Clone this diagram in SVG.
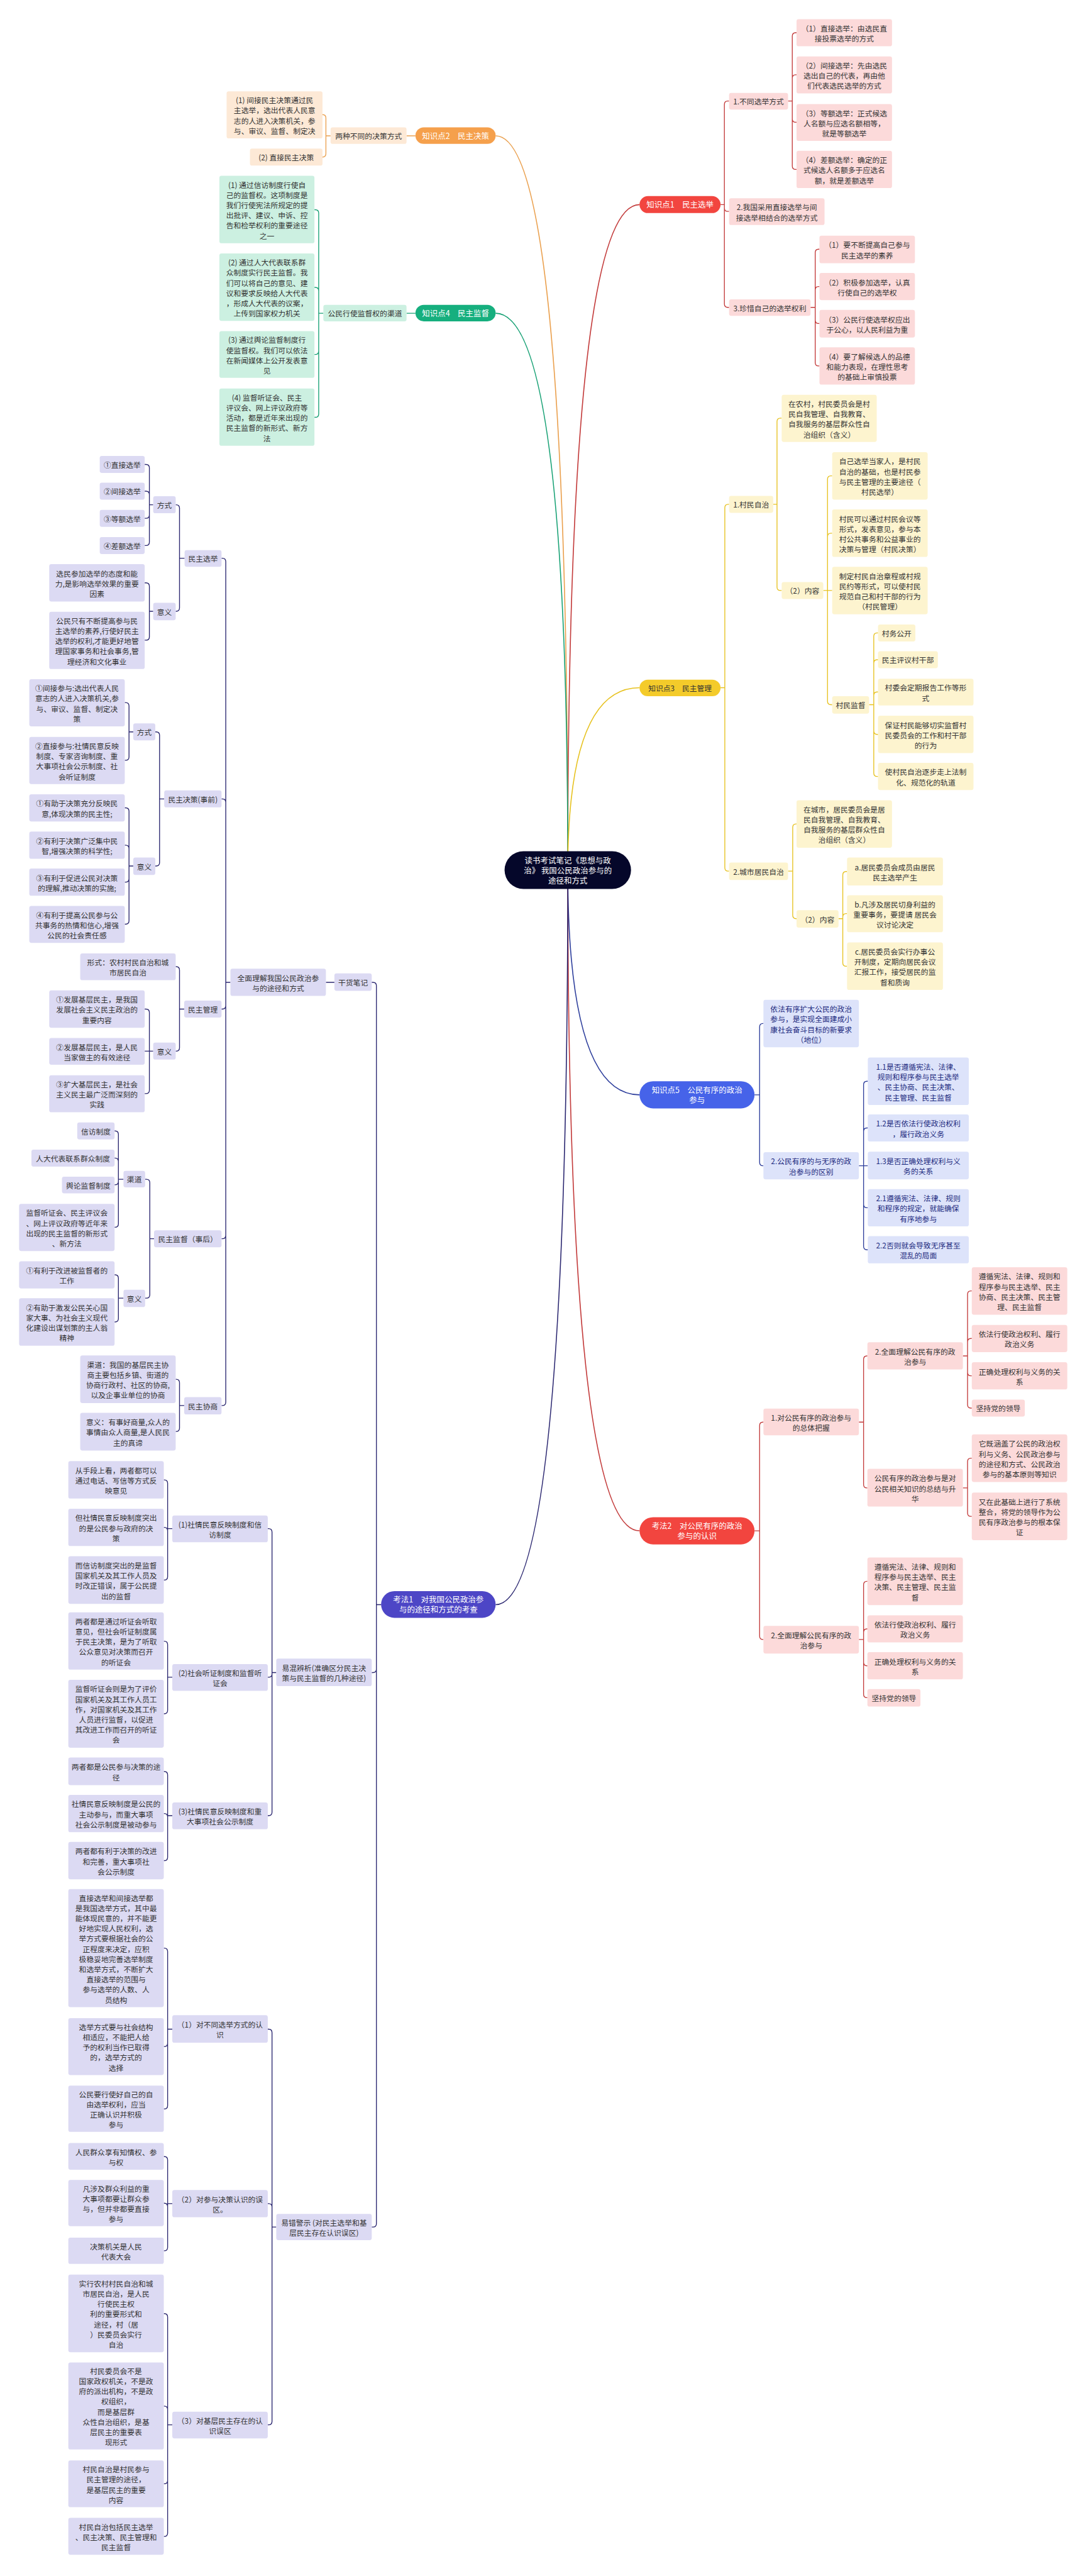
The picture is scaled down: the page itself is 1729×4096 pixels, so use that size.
<svg xmlns="http://www.w3.org/2000/svg" width="1729" height="4096" viewBox="0 0 1729 4096">
<style>
.t{font-family:"Noto Sans CJK SC","Noto Sans",sans-serif;font-size:17.5px;text-anchor:middle;dominant-baseline:central;fill:#333}
.w{fill:#fff;font-size:18.5px}
.nb{fill:#1c2a80}
.rd{fill:#F2453F}.pk{fill:#FCDADA}
.yM{fill:#F4CB2A}.yl{fill:#FDF4CF}
.bM{fill:#4663E9}.bl{fill:#DDE3FA}
.oM{fill:#F5A04C}.or{fill:#FDE9D6}
.gM{fill:#16AF7E}.gr{fill:#CCF0E1}
.iM{fill:#4D46C6}.lv{fill:#DCDAF3}
.cM{fill:#05072A}
.c{fill:none;stroke-width:2}
.m{fill:none;stroke-width:2.4}
.cr{stroke:#C33B3B}.cy{stroke:#E7C21F}.cb{stroke:#2D3E9C}.co{stroke:#EAA04E}.cg{stroke:#15A073}.ci{stroke:#2A2670}
</style>
<rect width="1729" height="4096" fill="#fff"/>
<g transform="scale(0.675)">
<g id="connectors">
<path class="m cr" d="M1338 2050Q1338 482 1507 482"/>
<path class="m co" d="M1338 2050Q1338 320 1168 320"/>
<path class="m cg" d="M1338 2050Q1338 738 1168 738"/>
<path class="m cy" d="M1338 2050Q1338 1620 1507 1620"/>
<path class="m cb" d="M1338 2050Q1338 2579 1507 2579"/>
<path class="m cr" d="M1338 2050Q1338 3606 1507 3606"/>
<path class="m ci" d="M1338 2050Q1338 3780 1168 3780"/>
<path class="c cr" d="M1698 482H1707M1707 482V246Q1707 238 1715 238H1718M1707 482V490Q1707 498 1715 498H1718M1707 482V716Q1707 724 1715 724H1718"/>
<path class="c cr" d="M1857 238H1867M1867 238V85Q1867 77 1875 77H1877M1867 238V184Q1867 176 1875 176H1877M1867 238V280Q1867 288 1875 288H1877M1867 238V391Q1867 399 1875 399H1877"/>
<path class="c cr" d="M1910 724H1921M1921 724V595Q1921 587 1929 587H1931M1921 724V683Q1921 675 1929 675H1931M1921 724V754Q1921 762 1929 762H1931M1921 724V854Q1921 862 1929 862H1931"/>
<path class="c cy" d="M1698 1620H1708M1708 1620V1196Q1708 1188 1716 1188H1718M1708 1620V2044Q1708 2052 1716 2052H1718"/>
<path class="c cy" d="M1822 1188H1831M1831 1188V993Q1831 985 1839 985H1842M1831 1188V1383Q1831 1391 1839 1391H1842"/>
<path class="c cy" d="M1940 1391H1961M1950 1391V1129Q1950 1121 1958 1121H1961M1950 1391V1264Q1950 1256 1958 1256H1961M1950 1391V1652Q1950 1660 1958 1660H1961"/>
<path class="c cy" d="M2048 1660H2059M2059 1660V1499Q2059 1491 2067 1491H2069M2059 1660V1562Q2059 1554 2067 1554H2069M2059 1660V1638Q2059 1630 2067 1630H2069M2059 1660V1722Q2059 1730 2067 1730H2069M2059 1660V1821Q2059 1829 2067 1829H2069"/>
<path class="c cy" d="M1857 2052H1868M1868 2052V1949Q1868 1941 1876 1941H1877M1868 2052V2156Q1868 2164 1876 2164H1877"/>
<path class="c cy" d="M1976 2164H1986M1986 2164V2061Q1986 2053 1994 2053H1996M1986 2164V2160Q1986 2152 1994 2152H1996M1986 2164V2268Q1986 2276 1994 2276H1996"/>
<path class="c cb" d="M1778 2579H1790M1790 2579V2419Q1790 2411 1798 2411H1799M1790 2579V2738Q1790 2746 1798 2746H1799"/>
<path class="c cb" d="M2024 2746H2045M2035 2746V2555Q2035 2547 2043 2547H2045M2035 2746V2665Q2035 2657 2043 2657H2045M2035 2746V2837Q2035 2845 2043 2845H2045M2035 2746V2936Q2035 2944 2043 2944H2045"/>
<path class="c cr" d="M1778 3606H1790M1790 3606V3358Q1790 3350 1798 3350H1799M1790 3606V3854Q1790 3862 1798 3862H1799"/>
<path class="c cr" d="M2024 3350H2035M2035 3350V3202Q2035 3194 2043 3194H2044M2035 3350V3497Q2035 3505 2043 3505H2044"/>
<path class="c cr" d="M2024 3862H2035M2035 3862V3733Q2035 3725 2043 3725H2044M2035 3862V3845Q2035 3837 2043 3837H2044M2035 3862V3916Q2035 3924 2043 3924H2044M2035 3862V3991Q2035 3999 2043 3999H2044"/>
<path class="c cr" d="M2269 3194H2280M2280 3194V3049Q2280 3041 2288 3041H2290M2280 3194V3161Q2280 3153 2288 3153H2290M2280 3194V3233Q2280 3241 2288 3241H2290M2280 3194V3309Q2280 3317 2288 3317H2290"/>
<path class="c cr" d="M2269 3505H2280M2280 3505V3443Q2280 3435 2288 3435H2290M2280 3505V3564Q2280 3572 2288 3572H2290"/>
<path class="c co" d="M979 320H958M779 320H768M768 320V278Q768 270 760 270M768 320V362Q768 370 760 370"/>
<path class="c cg" d="M979 738H958M762 738H751M751 738V502Q751 494 743 494H741M751 738V685Q751 677 743 677H741M751 738V827Q751 835 743 835H741M751 738V975Q751 983 743 983H741"/>
<path class="c ci" d="M898 3780H887M887 3780V2322Q887 2314 879 2314H876M887 3780V3932Q887 3940 879 3940H876M887 3780V5238Q887 5246 879 5246H876M788 2314H768"/>
<path class="c ci" d="M543 2314H532M532 2314V1323Q532 1315 524 1315H522M532 2314V1890Q532 1882 524 1882H522M532 2314V2369Q532 2377 524 2377H522M532 2314V2910Q532 2918 524 2918H522M532 2314V3303Q532 3311 524 3311H522"/>
<path class="c ci" d="M435 1315H423M423 1315V1197Q423 1189 415 1189H414M423 1315V1432Q423 1440 415 1440H414"/>
<path class="c ci" d="M361 1189H352M352 1189V1102Q352 1094 344 1094H341M352 1189V1165Q352 1157 344 1157H341M352 1189V1213Q352 1221 344 1221H341M352 1189V1277Q352 1285 344 1285H341"/>
<path class="c ci" d="M361 1440H352M352 1440V1381Q352 1373 344 1373H341M352 1440V1500Q352 1508 344 1508H341"/>
<path class="c ci" d="M387 1882H376M376 1882V1732Q376 1724 368 1724H366M376 1882V2032Q376 2040 368 2040H366"/>
<path class="c ci" d="M314 1724H304M304 1724V1663Q304 1655 296 1655H294M304 1724V1783Q304 1791 296 1791H294"/>
<path class="c ci" d="M314 2040H304M304 2040V1911Q304 1903 296 1903H294M304 2040V1999Q304 1991 296 1991H294M304 2040V2070Q304 2078 296 2078H294M304 2040V2169Q304 2177 296 2177H294"/>
<path class="c ci" d="M434 2377H423M423 2377V2285Q423 2277 415 2277H414M423 2377V2468Q423 2476 415 2476H414"/>
<path class="c ci" d="M361 2476H341M352 2476V2385Q352 2377 344 2377H341M352 2476V2568Q352 2576 344 2576H341"/>
<path class="c ci" d="M363 2918H353M353 2918V2786Q353 2778 345 2778H342M353 2918V3050Q353 3058 345 3058H342"/>
<path class="c ci" d="M291 2778H279M279 2778V2672Q279 2664 271 2664H270M279 2778V2736Q279 2728 271 2728H270M279 2778V2783Q279 2791 271 2791H270M279 2778V2883Q279 2891 271 2891H270"/>
<path class="c ci" d="M291 3058H279M279 3058V3011Q279 3003 271 3003H270M279 3058V3106Q279 3114 271 3114H270"/>
<path class="c ci" d="M434 3311H423M423 3311V3257Q423 3249 415 3249H414M423 3311V3364Q423 3372 415 3372H414"/>
<path class="c ci" d="M651 3940H641M641 3940V3609Q641 3601 633 3601H631M641 3940V3943Q641 3951 633 3951H631M641 3940V4269Q641 4277 633 4277H631"/>
<path class="c ci" d="M651 5246H641M641 5246V4788Q641 4780 633 4780H631M641 5246V5199Q641 5191 633 5191H631M641 5246V5704Q641 5712 633 5712H631"/>
<path class="c ci" d="M406 3601H395M395 3601V3494Q395 3486 387 3486H386M395 3601V3606Q395 3598 387 3598H386M395 3601V3714Q395 3722 387 3722H386"/>
<path class="c ci" d="M406 3951H395M395 3951V3874Q395 3866 387 3866H386M395 3951V4029Q395 4037 387 4037H386"/>
<path class="c ci" d="M406 4277H395M395 4277V4181Q395 4173 387 4173H386M395 4277V4280Q395 4272 387 4272H386M395 4277V4375Q395 4383 387 4383H386"/>
<path class="c ci" d="M406 4780H395M395 4780V4597Q395 4589 387 4589H386M395 4780V4813Q395 4821 387 4821H386M395 4780V4960Q395 4968 387 4968H386"/>
<path class="c ci" d="M406 5191H395M395 5191V5088Q395 5080 387 5080H386M395 5191V5198Q395 5190 387 5190H386M395 5191V5294Q395 5302 387 5302H386"/>
<path class="c ci" d="M406 5712H395M395 5712V5458Q395 5450 387 5450H386M395 5712V5676Q395 5668 387 5668H386M395 5712V5843Q395 5851 387 5851H386M395 5712V5967Q395 5975 387 5975H386"/>
</g>
<g id="center"><rect class="cM" x="1189" y="2005" width="298" height="89" rx="44.5"/><text class="t w" font-size="19"><tspan x="1338" y="2026.5">读书考试笔记《思想与政</tspan><tspan x="1338" y="2050">治》 我国公民政治参与的</tspan><tspan x="1338" y="2073.5">途径和方式</tspan></text></g>
<g id="k1-node"><rect class="rd" x="1507" y="462" width="191" height="40" rx="20"/><text class="t w" x="1602.5" y="482">知识点1　民主选举</text></g>
<g id="k1a"><rect class="pk" x="1718" y="219" width="139" height="39" rx="5"/><text class="t" x="1787.5" y="238.5">1.不同选举方式</text></g>
<g id="k1a1"><rect class="pk" x="1877" y="45" width="225" height="64" rx="5"/><text class="t"><tspan x="1989.5" y="65">（1）直接选举：由选民直</tspan><tspan x="1989.5" y="89">接投票选举的方式</tspan></text></g>
<g id="k1a2"><rect class="pk" x="1877" y="133" width="225" height="87" rx="5"/><text class="t"><tspan x="1989.5" y="152.5">（2）间接选举：先由选民</tspan><tspan x="1989.5" y="176.5">选出自己的代表，再由他</tspan><tspan x="1989.5" y="200.5">们代表选民选举的方式</tspan></text></g>
<g id="k1a3"><rect class="pk" x="1877" y="245" width="225" height="87" rx="5"/><text class="t"><tspan x="1989.5" y="264.5">（3）等额选举：正式候选</tspan><tspan x="1989.5" y="288.5">人名额与应选名额相等，</tspan><tspan x="1989.5" y="312.5">就是等额选举</tspan></text></g>
<g id="k1a4"><rect class="pk" x="1877" y="355" width="225" height="88" rx="5"/><text class="t"><tspan x="1989.5" y="375">（4）差额选举：确定的正</tspan><tspan x="1989.5" y="399">式候选人名额多于应选名</tspan><tspan x="1989.5" y="423">额，就是差额选举</tspan></text></g>
<g id="k1b"><rect class="pk" x="1718" y="467" width="225" height="63" rx="5"/><text class="t"><tspan x="1830.5" y="486.5">2.我国采用直接选举与间</tspan><tspan x="1830.5" y="510.5">接选举相结合的选举方式</tspan></text></g>
<g id="k1c"><rect class="pk" x="1718" y="705" width="192" height="39" rx="5"/><text class="t" x="1814" y="724.5">3.珍惜自己的选举权利</text></g>
<g id="k1c1"><rect class="pk" x="1931" y="555" width="225" height="65" rx="5"/><text class="t"><tspan x="2043.5" y="575.5">（1）要不断提高自己参与</tspan><tspan x="2043.5" y="599.5">民主选举的素养</tspan></text></g>
<g id="k1c2"><rect class="pk" x="1931" y="643" width="225" height="64" rx="5"/><text class="t"><tspan x="2043.5" y="663">（2）积极参加选举，认真</tspan><tspan x="2043.5" y="687">行使自己的选举权</tspan></text></g>
<g id="k1c3"><rect class="pk" x="1931" y="730" width="225" height="65" rx="5"/><text class="t"><tspan x="2043.5" y="750.5">（3）公民行使选举权应出</tspan><tspan x="2043.5" y="774.5">于公心，以人民利益为重</tspan></text></g>
<g id="k1c4"><rect class="pk" x="1931" y="818" width="225" height="88" rx="5"/><text class="t"><tspan x="2043.5" y="838">（4）要了解候选人的品德</tspan><tspan x="2043.5" y="862">和能力表现，在理性思考</tspan><tspan x="2043.5" y="886">的基础上审慎投票</tspan></text></g>
<g id="k3-node"><rect class="yM" x="1507" y="1601" width="191" height="39" rx="19.5"/><text class="t" x="1602.5" y="1620.5" font-size="18.5">知识点3　民主管理</text></g>
<g id="k3a"><rect class="yl" x="1718" y="1168" width="104" height="40" rx="5"/><text class="t" x="1770" y="1188">1.村民自治</text></g>
<g id="k3a1"><rect class="yl" x="1842" y="930" width="224" height="111" rx="5"/><text class="t"><tspan x="1954" y="949.5">在农村，村民委员会是村</tspan><tspan x="1954" y="973.5">民自我管理、自我教育、</tspan><tspan x="1954" y="997.5">自我服务的基层群众性自</tspan><tspan x="1954" y="1021.5">治组织（含义）</tspan></text></g>
<g id="k3a2"><rect class="yl" x="1842" y="1371" width="98" height="40" rx="5"/><text class="t" x="1891" y="1391">（2）内容</text></g>
<g id="k3a2a"><rect class="yl" x="1961" y="1065" width="225" height="112" rx="5"/><text class="t"><tspan x="2073.5" y="1085">自己选举当家人，是村民</tspan><tspan x="2073.5" y="1109">自治的基础，也是村民参</tspan><tspan x="2073.5" y="1133">与民主管理的主要途径（</tspan><tspan x="2073.5" y="1157">村民选举）</tspan></text></g>
<g id="k3a2b"><rect class="yl" x="1961" y="1200" width="225" height="112" rx="5"/><text class="t"><tspan x="2073.5" y="1220">村民可以通过村民会议等</tspan><tspan x="2073.5" y="1244">形式，发表意见，参与本</tspan><tspan x="2073.5" y="1268">村公共事务和公益事业的</tspan><tspan x="2073.5" y="1292">决策与管理（村民决策）</tspan></text></g>
<g id="k3a2c"><rect class="yl" x="1961" y="1335" width="225" height="112" rx="5"/><text class="t"><tspan x="2073.5" y="1355">制定村民自治章程或村规</tspan><tspan x="2073.5" y="1379">民约等形式，可以使村民</tspan><tspan x="2073.5" y="1403">规范自己和村干部的行为</tspan><tspan x="2073.5" y="1427">（村民管理）</tspan></text></g>
<g id="k3a2d"><rect class="yl" x="1961" y="1640" width="87" height="41" rx="5"/><text class="t" x="2004.5" y="1660.5">村民监督</text></g>
<g id="k3a2d1"><rect class="yl" x="2069" y="1471" width="88" height="40" rx="5"/><text class="t" x="2113" y="1491">村务公开</text></g>
<g id="k3a2d2"><rect class="yl" x="2069" y="1534" width="141" height="40" rx="5"/><text class="t" x="2139.5" y="1554">民主评议村干部</text></g>
<g id="k3a2d3"><rect class="yl" x="2069" y="1599" width="225" height="63" rx="5"/><text class="t"><tspan x="2181.5" y="1618.5">村委会定期报告工作等形</tspan><tspan x="2181.5" y="1642.5">式</tspan></text></g>
<g id="k3a2d4"><rect class="yl" x="2069" y="1686" width="225" height="88" rx="5"/><text class="t"><tspan x="2181.5" y="1706">保证村民能够切实监督村</tspan><tspan x="2181.5" y="1730">民委员会的工作和村干部</tspan><tspan x="2181.5" y="1754">的行为</tspan></text></g>
<g id="k3a2d5"><rect class="yl" x="2069" y="1797" width="225" height="64" rx="5"/><text class="t"><tspan x="2181.5" y="1817">使村民自治逐步走上法制</tspan><tspan x="2181.5" y="1841">化、规范化的轨道</tspan></text></g>
<g id="k3b"><rect class="yl" x="1718" y="2032" width="139" height="41" rx="5"/><text class="t" x="1787.5" y="2052.5">2.城市居民自治</text></g>
<g id="k3b1"><rect class="yl" x="1877" y="1885" width="225" height="112" rx="5"/><text class="t"><tspan x="1989.5" y="1905">在城市，居民委员会是居</tspan><tspan x="1989.5" y="1929">民自我管理、自我教育、</tspan><tspan x="1989.5" y="1953">自我服务的基层群众性自</tspan><tspan x="1989.5" y="1977">治组织（含义）</tspan></text></g>
<g id="k3b2"><rect class="yl" x="1877" y="2144" width="99" height="41" rx="5"/><text class="t" x="1926.5" y="2164.5">（2）内容</text></g>
<g id="k3b2a"><rect class="yl" x="1996" y="2020" width="226" height="66" rx="5"/><text class="t"><tspan x="2109" y="2041">a.居民委员会成员由居民</tspan><tspan x="2109" y="2065">民主选举产生</tspan></text></g>
<g id="k3b2b"><rect class="yl" x="1996" y="2109" width="226" height="87" rx="5"/><text class="t"><tspan x="2109" y="2128.5">b.凡涉及居民切身利益的</tspan><tspan x="2109" y="2152.5">重要事务，要提请 居民会</tspan><tspan x="2109" y="2176.5">议讨论决定</tspan></text></g>
<g id="k3b2c"><rect class="yl" x="1996" y="2220" width="226" height="112" rx="5"/><text class="t"><tspan x="2109" y="2240">c.居民委员会实行办事公</tspan><tspan x="2109" y="2264">开制度，定期向居民会议</tspan><tspan x="2109" y="2288">汇报工作，接受居民的监</tspan><tspan x="2109" y="2312">督和质询</tspan></text></g>
<g id="k5-node"><rect class="bM" x="1507" y="2547" width="271" height="64" rx="32"/><text class="t w"><tspan x="1642.5" y="2567">知识点5　公民有序的政治</tspan><tspan x="1642.5" y="2591">参与</tspan></text></g>
<g id="k5a"><rect class="bl" x="1799" y="2355" width="225" height="112" rx="5"/><text class="t nb"><tspan x="1911.5" y="2375">依法有序扩大公民的政治</tspan><tspan x="1911.5" y="2399">参与，是实现全面建成小</tspan><tspan x="1911.5" y="2423">康社会奋斗目标的新要求</tspan><tspan x="1911.5" y="2447">（地位）</tspan></text></g>
<g id="k5b"><rect class="bl" x="1799" y="2714" width="225" height="64" rx="5"/><text class="t nb"><tspan x="1911.5" y="2734">2.公民有序的与无序的政</tspan><tspan x="1911.5" y="2758">治参与的区别</tspan></text></g>
<g id="k5b1"><rect class="bl" x="2045" y="2491" width="238" height="112" rx="5"/><text class="t nb"><tspan x="2164" y="2511">1.1是否遵循宪法、法律、</tspan><tspan x="2164" y="2535">规则和程序参与民主选举</tspan><tspan x="2164" y="2559">、民主协商、民主决策、</tspan><tspan x="2164" y="2583">民主管理、民主监督</tspan></text></g>
<g id="k5b2"><rect class="bl" x="2045" y="2625" width="238" height="64" rx="5"/><text class="t nb"><tspan x="2164" y="2645">1.2是否依法行使政治权利</tspan><tspan x="2164" y="2669">，履行政治义务</tspan></text></g>
<g id="k5b3"><rect class="bl" x="2045" y="2713" width="238" height="65" rx="5"/><text class="t nb"><tspan x="2164" y="2733.5">1.3是否正确处理权利与义</tspan><tspan x="2164" y="2757.5">务的关系</tspan></text></g>
<g id="k5b4"><rect class="bl" x="2045" y="2801" width="238" height="88" rx="5"/><text class="t nb"><tspan x="2164" y="2821">2.1遵循宪法、法律、规则</tspan><tspan x="2164" y="2845">和程序的规定，就能确保</tspan><tspan x="2164" y="2869">有序地参与</tspan></text></g>
<g id="k5b5"><rect class="bl" x="2045" y="2912" width="238" height="64" rx="5"/><text class="t nb"><tspan x="2164" y="2932">2.2否则就会导致无序甚至</tspan><tspan x="2164" y="2956">混乱的局面</tspan></text></g>
<g id="kf2-node"><rect class="rd" x="1507" y="3574" width="271" height="64" rx="32"/><text class="t w"><tspan x="1642.5" y="3594">考法2　对公民有序的政治</tspan><tspan x="1642.5" y="3618">参与的认识</tspan></text></g>
<g id="kf2a"><rect class="pk" x="1799" y="3318" width="225" height="63" rx="5"/><text class="t"><tspan x="1911.5" y="3337.5">1.对公民有序的政治参与</tspan><tspan x="1911.5" y="3361.5">的总体把握</tspan></text></g>
<g id="kf2a1"><rect class="pk" x="2044" y="3162" width="225" height="64" rx="5"/><text class="t"><tspan x="2156.5" y="3182">2.全面理解公民有序的政</tspan><tspan x="2156.5" y="3206">治参与</tspan></text></g>
<g id="kf2a1a"><rect class="pk" x="2290" y="2985" width="225" height="112" rx="5"/><text class="t"><tspan x="2402.5" y="3005">遵循宪法、法律、规则和</tspan><tspan x="2402.5" y="3029">程序参与民主选举、民主</tspan><tspan x="2402.5" y="3053">协商、民主决策、民主管</tspan><tspan x="2402.5" y="3077">理、民主监督</tspan></text></g>
<g id="kf2a1b"><rect class="pk" x="2290" y="3121" width="225" height="64" rx="5"/><text class="t"><tspan x="2402.5" y="3141">依法行使政治权利、履行</tspan><tspan x="2402.5" y="3165">政治义务</tspan></text></g>
<g id="kf2a1c"><rect class="pk" x="2290" y="3209" width="225" height="64" rx="5"/><text class="t"><tspan x="2402.5" y="3229">正确处理权利与义务的关</tspan><tspan x="2402.5" y="3253">系</tspan></text></g>
<g id="kf2a1d"><rect class="pk" x="2290" y="3297" width="125" height="40" rx="5"/><text class="t" x="2352.5" y="3317">坚持党的领导</text></g>
<g id="kf2a2"><rect class="pk" x="2044" y="3460" width="225" height="89" rx="5"/><text class="t"><tspan x="2156.5" y="3480.5">公民有序的政治参与是对</tspan><tspan x="2156.5" y="3504.5">公民相关知识的总结与升</tspan><tspan x="2156.5" y="3528.5">华</tspan></text></g>
<g id="kf2a2a"><rect class="pk" x="2290" y="3379" width="225" height="112" rx="5"/><text class="t"><tspan x="2402.5" y="3399">它既涵盖了公民的政治权</tspan><tspan x="2402.5" y="3423">利与义务、公民政治参与</tspan><tspan x="2402.5" y="3447">的途径和方式、公民政治</tspan><tspan x="2402.5" y="3471">参与的基本原则等知识</tspan></text></g>
<g id="kf2a2b"><rect class="pk" x="2290" y="3516" width="225" height="112" rx="5"/><text class="t"><tspan x="2402.5" y="3536">又在此基础上进行了系统</tspan><tspan x="2402.5" y="3560">整合，将党的领导作为公</tspan><tspan x="2402.5" y="3584">民有序政治参与的根本保</tspan><tspan x="2402.5" y="3608">证</tspan></text></g>
<g id="kf2b"><rect class="pk" x="1799" y="3830" width="225" height="65" rx="5"/><text class="t"><tspan x="1911.5" y="3850.5">2.全面理解公民有序的政</tspan><tspan x="1911.5" y="3874.5">治参与</tspan></text></g>
<g id="kf2b1"><rect class="pk" x="2044" y="3669" width="225" height="112" rx="5"/><text class="t"><tspan x="2156.5" y="3689">遵循宪法、法律、规则和</tspan><tspan x="2156.5" y="3713">程序参与民主选举、民主</tspan><tspan x="2156.5" y="3737">决策、民主管理、民主监</tspan><tspan x="2156.5" y="3761">督</tspan></text></g>
<g id="kf2b2"><rect class="pk" x="2044" y="3805" width="225" height="64" rx="5"/><text class="t"><tspan x="2156.5" y="3825">依法行使政治权利、履行</tspan><tspan x="2156.5" y="3849">政治义务</tspan></text></g>
<g id="kf2b3"><rect class="pk" x="2044" y="3892" width="225" height="64" rx="5"/><text class="t"><tspan x="2156.5" y="3912">正确处理权利与义务的关</tspan><tspan x="2156.5" y="3936">系</tspan></text></g>
<g id="kf2b4"><rect class="pk" x="2044" y="3979" width="125" height="41" rx="5"/><text class="t" x="2106.5" y="3999.5">坚持党的领导</text></g>
<g id="k2-node"><rect class="oM" x="979" y="300" width="189" height="39" rx="19.5"/><text class="t w" x="1073.5" y="319.5">知识点2　民主决策</text></g>
<g id="k2a"><rect class="or" x="779" y="300" width="179" height="39" rx="5"/><text class="t" x="868.5" y="319.5">两种不同的决策方式</text></g>
<g id="k2a1"><rect class="or" x="534" y="215" width="226" height="111" rx="5"/><text class="t"><tspan x="647" y="234.5">(1) 间接民主决策通过民</tspan><tspan x="647" y="258.5">主选举，选出代表人民意</tspan><tspan x="647" y="282.5">志的人进入决策机关，参</tspan><tspan x="647" y="306.5">与、审议、监督、制定决</tspan></text></g>
<g id="k2a2"><rect class="or" x="589" y="350" width="171" height="40" rx="5"/><text class="t" x="674.5" y="370">(2) 直接民主决策</text></g>
<g id="k4-node"><rect class="gM" x="979" y="718" width="189" height="39" rx="19.5"/><text class="t w" x="1073.5" y="737.5">知识点4　民主监督</text></g>
<g id="k4a"><rect class="gr" x="762" y="718" width="196" height="39" rx="5"/><text class="t" x="860" y="737.5">公民行使监督权的渠道</text></g>
<g id="k4a1"><rect class="gr" x="517" y="414" width="224" height="159" rx="5"/><text class="t"><tspan x="629" y="433.5">(1) 通过信访制度行使自</tspan><tspan x="629" y="457.5">己的监督权。这项制度是</tspan><tspan x="629" y="481.5">我们行使宪法所规定的提</tspan><tspan x="629" y="505.5">出批评、建议、申诉、控</tspan><tspan x="629" y="529.5">告和检举权利的重要途径</tspan><tspan x="629" y="553.5">之一</tspan></text></g>
<g id="k4a2"><rect class="gr" x="517" y="597" width="224" height="159" rx="5"/><text class="t"><tspan x="629" y="616.5">(2) 通过人大代表联系群</tspan><tspan x="629" y="640.5">众制度实行民主监督。我</tspan><tspan x="629" y="664.5">们可以将自己的意见、建</tspan><tspan x="629" y="688.5">议和要求反映给人大代表</tspan><tspan x="629" y="712.5">，形成人大代表的议案，</tspan><tspan x="629" y="736.5">上传到国家权力机关</tspan></text></g>
<g id="k4a3"><rect class="gr" x="517" y="780" width="224" height="110" rx="5"/><text class="t"><tspan x="629" y="799">(3) 通过舆论监督制度行</tspan><tspan x="629" y="823">使监督权。我们可以依法</tspan><tspan x="629" y="847">在新闻媒体上公开发表意</tspan><tspan x="629" y="871">见</tspan></text></g>
<g id="k4a4"><rect class="gr" x="517" y="915" width="224" height="135" rx="5"/><text class="t"><tspan x="629" y="934.5">(4) 监督听证会、民主</tspan><tspan x="629" y="958.5">评议会、网上评议政府等</tspan><tspan x="629" y="982.5">活动，都是近年来出现的</tspan><tspan x="629" y="1006.5">民主监督的新形式、新方</tspan><tspan x="629" y="1030.5">法</tspan></text></g>
<g id="kf1-node"><rect class="iM" x="898" y="3748" width="270" height="63" rx="31.5"/><text class="t w"><tspan x="1033" y="3767.5">考法1　对我国公民政治参</tspan><tspan x="1033" y="3791.5">与的途径和方式的考查</tspan></text></g>
<g id="gh"><rect class="lv" x="788" y="2293" width="88" height="41" rx="5"/><text class="t" x="832" y="2313.5">干货笔记</text></g>
<g id="qm"><rect class="lv" x="543" y="2282" width="225" height="64" rx="5"/><text class="t"><tspan x="655.5" y="2302">全面理解我国公民政治参</tspan><tspan x="655.5" y="2326">与的途径和方式</tspan></text></g>
<g id="mx"><rect class="lv" x="435" y="1296" width="87" height="39" rx="5"/><text class="t" x="478.5" y="1315.5">民主选举</text></g>
<g id="mx-fs"><rect class="lv" x="361" y="1169" width="53" height="40" rx="5"/><text class="t" x="387.5" y="1189">方式</text></g>
<g id="mx-fs1"><rect class="lv" x="235" y="1074" width="106" height="40" rx="5"/><text class="t" x="288" y="1094">①直接选举</text></g>
<g id="mx-fs2"><rect class="lv" x="235" y="1137" width="106" height="40" rx="5"/><text class="t" x="288" y="1157">②间接选举</text></g>
<g id="mx-fs3"><rect class="lv" x="235" y="1201" width="106" height="40" rx="5"/><text class="t" x="288" y="1221">③等额选举</text></g>
<g id="mx-fs4"><rect class="lv" x="235" y="1265" width="106" height="40" rx="5"/><text class="t" x="288" y="1285">④差额选举</text></g>
<g id="mx-yy"><rect class="lv" x="361" y="1420" width="53" height="41" rx="5"/><text class="t" x="387.5" y="1440.5">意义</text></g>
<g id="mx-yy1"><rect class="lv" x="116" y="1329" width="225" height="88" rx="5"/><text class="t"><tspan x="228.5" y="1349">选民参加选举的态度和能</tspan><tspan x="228.5" y="1373">力,是影响选举效果的重要</tspan><tspan x="228.5" y="1397">因素</tspan></text></g>
<g id="mx-yy2"><rect class="lv" x="116" y="1441" width="225" height="135" rx="5"/><text class="t"><tspan x="228.5" y="1460.5">公民只有不断提高参与民</tspan><tspan x="228.5" y="1484.5">主选举的素养,行使好民主</tspan><tspan x="228.5" y="1508.5">选举的权利,才能更好地管</tspan><tspan x="228.5" y="1532.5">理国家事务和社会事务,管</tspan><tspan x="228.5" y="1556.5">理经济和文化事业</tspan></text></g>
<g id="mj"><rect class="lv" x="387" y="1862" width="135" height="40" rx="5"/><text class="t" x="454.5" y="1882">民主决策(事前)</text></g>
<g id="mj-fs"><rect class="lv" x="314" y="1704" width="52" height="40" rx="5"/><text class="t" x="340" y="1724">方式</text></g>
<g id="mj-fs1"><rect class="lv" x="69" y="1600" width="225" height="111" rx="5"/><text class="t"><tspan x="181.5" y="1619.5">①间接参与:选出代表人民</tspan><tspan x="181.5" y="1643.5">意志的人进入决策机关,参</tspan><tspan x="181.5" y="1667.5">与、审议、监督、制定决</tspan><tspan x="181.5" y="1691.5">策</tspan></text></g>
<g id="mj-fs2"><rect class="lv" x="69" y="1736" width="225" height="111" rx="5"/><text class="t"><tspan x="181.5" y="1755.5">②直接参与:社情民意反映</tspan><tspan x="181.5" y="1779.5">制度、专家咨询制度、重</tspan><tspan x="181.5" y="1803.5">大事项社会公示制度、社</tspan><tspan x="181.5" y="1827.5">会听证制度</tspan></text></g>
<g id="mj-yy"><rect class="lv" x="314" y="2020" width="52" height="41" rx="5"/><text class="t" x="340" y="2040.5">意义</text></g>
<g id="mj-yy1"><rect class="lv" x="69" y="1871" width="225" height="64" rx="5"/><text class="t"><tspan x="181.5" y="1891">①有助于决策充分反映民</tspan><tspan x="181.5" y="1915">意,体现决策的民主性;</tspan></text></g>
<g id="mj-yy2"><rect class="lv" x="69" y="1959" width="225" height="64" rx="5"/><text class="t"><tspan x="181.5" y="1979">②有利于决策广泛集中民</tspan><tspan x="181.5" y="2003">智,增强决策的科学性;</tspan></text></g>
<g id="mj-yy3"><rect class="lv" x="69" y="2046" width="225" height="64" rx="5"/><text class="t"><tspan x="181.5" y="2066">③有利于促进公民对决策</tspan><tspan x="181.5" y="2090">的理解,推动决策的实施;</tspan></text></g>
<g id="mj-yy4"><rect class="lv" x="69" y="2134" width="225" height="87" rx="5"/><text class="t"><tspan x="181.5" y="2153.5">④有利于提高公民参与公</tspan><tspan x="181.5" y="2177.5">共事务的热情和信心,增强</tspan><tspan x="181.5" y="2201.5">公民的社会责任感</tspan></text></g>
<g id="mg"><rect class="lv" x="434" y="2357" width="88" height="40" rx="5"/><text class="t" x="478" y="2377">民主管理</text></g>
<g id="mg-xs"><rect class="lv" x="189" y="2246" width="225" height="63" rx="5"/><text class="t"><tspan x="301.5" y="2265.5">形式：农村村民自治和城</tspan><tspan x="301.5" y="2289.5">市居民自治</tspan></text></g>
<g id="mg-yy"><rect class="lv" x="361" y="2456" width="53" height="40" rx="5"/><text class="t" x="387.5" y="2476">意义</text></g>
<g id="mg-yy1"><rect class="lv" x="116" y="2333" width="225" height="88" rx="5"/><text class="t"><tspan x="228.5" y="2353">①发展基层民主，是我国</tspan><tspan x="228.5" y="2377">发展社会主义民主政治的</tspan><tspan x="228.5" y="2401">重要内容</tspan></text></g>
<g id="mg-yy2"><rect class="lv" x="116" y="2445" width="225" height="63" rx="5"/><text class="t"><tspan x="228.5" y="2464.5">②发展基层民主，是人民</tspan><tspan x="228.5" y="2488.5">当家做主的有效途径</tspan></text></g>
<g id="mg-yy3"><rect class="lv" x="116" y="2533" width="225" height="87" rx="5"/><text class="t"><tspan x="228.5" y="2552.5">③扩大基层民主，是社会</tspan><tspan x="228.5" y="2576.5">主义民主最广泛而深刻的</tspan><tspan x="228.5" y="2600.5">实践</tspan></text></g>
<g id="mjd"><rect class="lv" x="363" y="2898" width="159" height="40" rx="5"/><text class="t" x="442.5" y="2918">民主监督（事后）</text></g>
<g id="mjd-qd"><rect class="lv" x="291" y="2758" width="51" height="39" rx="5"/><text class="t" x="316.5" y="2777.5">渠道</text></g>
<g id="mjd-qd1"><rect class="lv" x="182" y="2644" width="88" height="40" rx="5"/><text class="t" x="226" y="2664">信访制度</text></g>
<g id="mjd-qd2"><rect class="lv" x="74" y="2708" width="196" height="40" rx="5"/><text class="t" x="172" y="2728">人大代表联系群众制度</text></g>
<g id="mjd-qd3"><rect class="lv" x="146" y="2772" width="124" height="39" rx="5"/><text class="t" x="208" y="2791.5">舆论监督制度</text></g>
<g id="mjd-qd4"><rect class="lv" x="45" y="2836" width="225" height="111" rx="5"/><text class="t"><tspan x="157.5" y="2855.5">监督听证会、民主评议会</tspan><tspan x="157.5" y="2879.5">、网上评议政府等近年来</tspan><tspan x="157.5" y="2903.5">出现的民主监督的新形式</tspan><tspan x="157.5" y="2927.5">、新方法</tspan></text></g>
<g id="mjd-yy"><rect class="lv" x="291" y="3038" width="51" height="41" rx="5"/><text class="t" x="316.5" y="3058.5">意义</text></g>
<g id="mjd-yy1"><rect class="lv" x="45" y="2971" width="225" height="64" rx="5"/><text class="t"><tspan x="157.5" y="2991">①有利于改进被监督者的</tspan><tspan x="157.5" y="3015">工作</tspan></text></g>
<g id="mjd-yy2"><rect class="lv" x="45" y="3058" width="225" height="112" rx="5"/><text class="t"><tspan x="157.5" y="3078">②有助于激发公民关心国</tspan><tspan x="157.5" y="3102">家大事、为社会主义现代</tspan><tspan x="157.5" y="3126">化建设出谋划策的主人翁</tspan><tspan x="157.5" y="3150">精神</tspan></text></g>
<g id="xs"><rect class="lv" x="434" y="3291" width="88" height="41" rx="5"/><text class="t" x="478" y="3311.5">民主协商</text></g>
<g id="xs1"><rect class="lv" x="189" y="3193" width="225" height="112" rx="5"/><text class="t"><tspan x="301.5" y="3213">渠道：我国的基层民主协</tspan><tspan x="301.5" y="3237">商主要包括乡镇、街道的</tspan><tspan x="301.5" y="3261">协商行政村、社区的协商,</tspan><tspan x="301.5" y="3285">以及企事业单位的协商</tspan></text></g>
<g id="xs2"><rect class="lv" x="189" y="3328" width="225" height="89" rx="5"/><text class="t"><tspan x="301.5" y="3348.5">意义：有事好商量,众人的</tspan><tspan x="301.5" y="3372.5">事情由众人商量,是人民民</tspan><tspan x="301.5" y="3396.5">主的真谛</tspan></text></g>
<g id="yh"><rect class="lv" x="651" y="3907" width="225" height="65" rx="5"/><text class="t"><tspan x="763.5" y="3927.5">易混辨析(准确区分民主决</tspan><tspan x="763.5" y="3951.5">策与民主监督的几种途径)</tspan></text></g>
<g id="yh1"><rect class="lv" x="406" y="3570" width="225" height="63" rx="5"/><text class="t"><tspan x="518.5" y="3589.5">(1)社情民意反映制度和信</tspan><tspan x="518.5" y="3613.5">访制度</tspan></text></g>
<g id="yh2"><rect class="lv" x="406" y="3920" width="225" height="63" rx="5"/><text class="t"><tspan x="518.5" y="3939.5">(2)社会听证制度和监督听</tspan><tspan x="518.5" y="3963.5">证会</tspan></text></g>
<g id="yh3"><rect class="lv" x="406" y="4246" width="225" height="63" rx="5"/><text class="t"><tspan x="518.5" y="4265.5">(3)社情民意反映制度和重</tspan><tspan x="518.5" y="4289.5">大事项社会公示制度</tspan></text></g>
<g id="yc"><rect class="lv" x="651" y="5215" width="225" height="62" rx="5"/><text class="t"><tspan x="763.5" y="5234">易错警示 (对民主选举和基</tspan><tspan x="763.5" y="5258">层民主存在认识误区)</tspan></text></g>
<g id="yc1"><rect class="lv" x="406" y="4747" width="225" height="65" rx="5"/><text class="t"><tspan x="518.5" y="4767.5">（1）对不同选举方式的认</tspan><tspan x="518.5" y="4791.5">识</tspan></text></g>
<g id="yc2"><rect class="lv" x="406" y="5159" width="225" height="64" rx="5"/><text class="t"><tspan x="518.5" y="5179">（2）对参与决策认识的误</tspan><tspan x="518.5" y="5203">区。</tspan></text></g>
<g id="yc3"><rect class="lv" x="406" y="5681" width="225" height="63" rx="5"/><text class="t"><tspan x="518.5" y="5700.5">（3）对基层民主存在的认</tspan><tspan x="518.5" y="5724.5">识误区</tspan></text></g>
<g id="L1"><rect class="lv" x="161" y="3442" width="225" height="88" rx="5"/><text class="t"><tspan x="273.5" y="3462">从手段上看，两者都可以</tspan><tspan x="273.5" y="3486">通过电话、写信等方式反</tspan><tspan x="273.5" y="3510">映意见</tspan></text></g>
<g id="L2"><rect class="lv" x="161" y="3554" width="225" height="88" rx="5"/><text class="t"><tspan x="273.5" y="3574">但社情民意反映制度突出</tspan><tspan x="273.5" y="3598">的是公民参与政府的决</tspan><tspan x="273.5" y="3622">策</tspan></text></g>
<g id="L3"><rect class="lv" x="161" y="3666" width="225" height="112" rx="5"/><text class="t"><tspan x="273.5" y="3686">而信访制度突出的是监督</tspan><tspan x="273.5" y="3710">国家机关及其工作人员及</tspan><tspan x="273.5" y="3734">时改正错误，属于公民提</tspan><tspan x="273.5" y="3758">出的监督</tspan></text></g>
<g id="L4"><rect class="lv" x="161" y="3798" width="225" height="135" rx="5"/><text class="t"><tspan x="273.5" y="3817.5">两者都是通过听证会听取</tspan><tspan x="273.5" y="3841.5">意见，但社会听证制度属</tspan><tspan x="273.5" y="3865.5">于民主决策，是为了听取</tspan><tspan x="273.5" y="3889.5">公众意见对决策而召开</tspan><tspan x="273.5" y="3913.5">的听证会</tspan></text></g>
<g id="L5"><rect class="lv" x="161" y="3957" width="225" height="160" rx="5"/><text class="t"><tspan x="273.5" y="3977">监督听证会则是为了评价</tspan><tspan x="273.5" y="4001">国家机关及其工作人员工</tspan><tspan x="273.5" y="4025">作，对国家机关及其工作</tspan><tspan x="273.5" y="4049">人员进行监督，以促进</tspan><tspan x="273.5" y="4073">其改进工作而召开的听证</tspan><tspan x="273.5" y="4097">会</tspan></text></g>
<g id="L6"><rect class="lv" x="161" y="4140" width="225" height="65" rx="5"/><text class="t"><tspan x="273.5" y="4160.5">两者都是公民参与决策的途</tspan><tspan x="273.5" y="4184.5">径</tspan></text></g>
<g id="L7"><rect class="lv" x="161" y="4228" width="225" height="88" rx="5"/><text class="t"><tspan x="273.5" y="4248">社情民意反映制度是公民的</tspan><tspan x="273.5" y="4272">主动参与，而重大事项</tspan><tspan x="273.5" y="4296">社会公示制度是被动参与</tspan></text></g>
<g id="L8"><rect class="lv" x="161" y="4339" width="225" height="88" rx="5"/><text class="t"><tspan x="273.5" y="4359">两者都有利于决策的改进</tspan><tspan x="273.5" y="4383">和完善，重大事项社</tspan><tspan x="273.5" y="4407">会公示制度</tspan></text></g>
<g id="L9"><rect class="lv" x="161" y="4450" width="225" height="278" rx="5"/><text class="t"><tspan x="273.5" y="4469">直接选举和间接选举都</tspan><tspan x="273.5" y="4493">是我国选举方式，其中最</tspan><tspan x="273.5" y="4517">能体现民意的，并不能更</tspan><tspan x="273.5" y="4541">好地实现人民权利，选</tspan><tspan x="273.5" y="4565">举方式要根据社会的公</tspan><tspan x="273.5" y="4589">正程度来决定，应积</tspan><tspan x="273.5" y="4613">极稳妥地完善选举制度</tspan><tspan x="273.5" y="4637">和选举方式，不断扩大</tspan><tspan x="273.5" y="4661">直接选举的范围与</tspan><tspan x="273.5" y="4685">参与选举的人数、人</tspan><tspan x="273.5" y="4709">员结构</tspan></text></g>
<g id="L10"><rect class="lv" x="161" y="4754" width="225" height="134" rx="5"/><text class="t"><tspan x="273.5" y="4773">选举方式要与社会结构</tspan><tspan x="273.5" y="4797">相适应，不能把人给</tspan><tspan x="273.5" y="4821">予的权利当作已取得</tspan><tspan x="273.5" y="4845">的，选举方式的</tspan><tspan x="273.5" y="4869">选择</tspan></text></g>
<g id="L11"><rect class="lv" x="161" y="4913" width="225" height="109" rx="5"/><text class="t"><tspan x="273.5" y="4931.5">公民要行使好自己的自</tspan><tspan x="273.5" y="4955.5">由选举权利，应当</tspan><tspan x="273.5" y="4979.5">正确认识并积极</tspan><tspan x="273.5" y="5003.5">参与</tspan></text></g>
<g id="L12"><rect class="lv" x="161" y="5048" width="225" height="63" rx="5"/><text class="t"><tspan x="273.5" y="5067.5">人民群众享有知情权、参</tspan><tspan x="273.5" y="5091.5">与权</tspan></text></g>
<g id="L13"><rect class="lv" x="161" y="5135" width="225" height="109" rx="5"/><text class="t"><tspan x="273.5" y="5153.5">凡涉及群众利益的重</tspan><tspan x="273.5" y="5177.5">大事项都要让群众参</tspan><tspan x="273.5" y="5201.5">与，但并非都要直接</tspan><tspan x="273.5" y="5225.5">参与</tspan></text></g>
<g id="L14"><rect class="lv" x="161" y="5271" width="225" height="62" rx="5"/><text class="t"><tspan x="273.5" y="5290">决策机关是人民</tspan><tspan x="273.5" y="5314">代表大会</tspan></text></g>
<g id="L15"><rect class="lv" x="161" y="5358" width="225" height="183" rx="5"/><text class="t"><tspan x="273.5" y="5377.5">实行农村村民自治和城</tspan><tspan x="273.5" y="5401.5">市居民自治，是人民</tspan><tspan x="273.5" y="5425.5">行使民主权</tspan><tspan x="273.5" y="5449.5">利的重要形式和</tspan><tspan x="273.5" y="5473.5">途径，村（居</tspan><tspan x="273.5" y="5497.5">）民委员会实行</tspan><tspan x="273.5" y="5521.5">自治</tspan></text></g>
<g id="L16"><rect class="lv" x="161" y="5565" width="225" height="205" rx="5"/><text class="t"><tspan x="273.5" y="5583.5">村民委员会不是</tspan><tspan x="273.5" y="5607.5">国家政权机关，不是政</tspan><tspan x="273.5" y="5631.5">府的派出机构，不是政</tspan><tspan x="273.5" y="5655.5">权组织，</tspan><tspan x="273.5" y="5679.5">而是基层群</tspan><tspan x="273.5" y="5703.5">众性自治组织，是基</tspan><tspan x="273.5" y="5727.5">层民主的重要表</tspan><tspan x="273.5" y="5751.5">现形式</tspan></text></g>
<g id="L17"><rect class="lv" x="161" y="5796" width="225" height="110" rx="5"/><text class="t"><tspan x="273.5" y="5815">村民自治是村民参与</tspan><tspan x="273.5" y="5839">民主管理的途径，</tspan><tspan x="273.5" y="5863">是基层民主的重要</tspan><tspan x="273.5" y="5887">内容</tspan></text></g>
<g id="L18"><rect class="lv" x="161" y="5931" width="225" height="87" rx="5"/><text class="t"><tspan x="273.5" y="5950.5">村民自治包括民主选举</tspan><tspan x="273.5" y="5974.5">、民主决策、民主管理和</tspan><tspan x="273.5" y="5998.5">民主监督</tspan></text></g>
</g>
</svg>
